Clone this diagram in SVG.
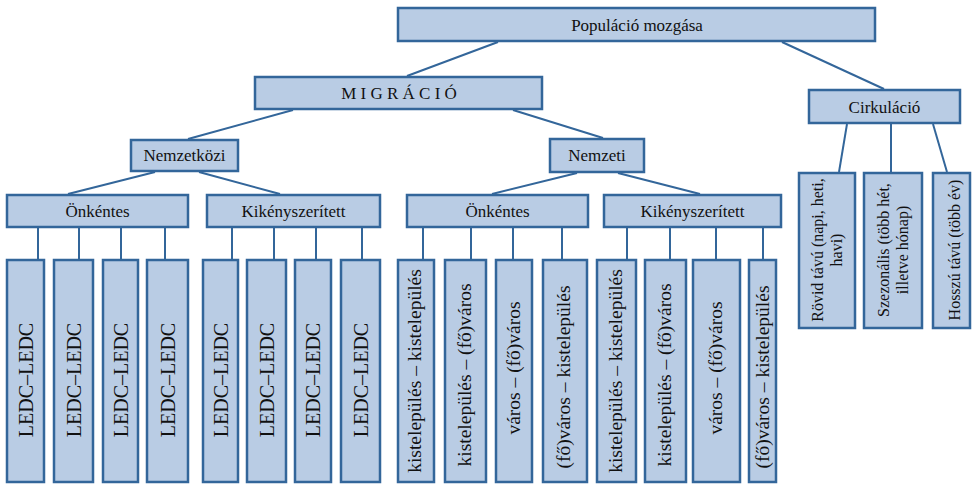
<svg xmlns="http://www.w3.org/2000/svg" width="974" height="486" viewBox="0 0 974 486">
<style>
.b{fill:#b9cce4;stroke:#33669a;stroke-width:2.5}
.c line{stroke:#33669a;stroke-width:2}
text{font-family:"Liberation Serif","Times New Roman",serif;fill:#111;text-anchor:middle}
.h{font-size:17px}
.t{font-size:20px}
.s{font-size:19.5px}
.r{font-size:16px}
</style>
<rect width="974" height="486" fill="#fff"/>
<g class="c" id="connectors">
<line x1="498" y1="42" x2="407" y2="76"/>
<line x1="782" y1="42" x2="884" y2="89"/>
<line x1="293" y1="110" x2="188" y2="139"/>
<line x1="513" y1="110" x2="603" y2="138"/>
<line x1="155" y1="172" x2="68" y2="194"/>
<line x1="199" y1="172" x2="280" y2="194"/>
<line x1="577" y1="173" x2="492" y2="194"/>
<line x1="618" y1="173" x2="700" y2="194"/>
<line x1="847" y1="124" x2="839" y2="172"/>
<line x1="891" y1="124" x2="891" y2="172"/>
<line x1="933" y1="124" x2="947" y2="172"/>
<line x1="38" y1="228" x2="38" y2="259"/>
<line x1="79" y1="228" x2="79" y2="259"/>
<line x1="121" y1="228" x2="121" y2="259"/>
<line x1="165" y1="228" x2="165" y2="259"/>
<line x1="232" y1="228" x2="232" y2="259"/>
<line x1="274" y1="228" x2="274" y2="259"/>
<line x1="316" y1="228" x2="316" y2="259"/>
<line x1="362" y1="228" x2="362" y2="259"/>
<line x1="423" y1="228" x2="423" y2="259"/>
<line x1="471" y1="228" x2="471" y2="259"/>
<line x1="513" y1="228" x2="513" y2="259"/>
<line x1="562" y1="228" x2="562" y2="259"/>
<line x1="627" y1="228" x2="627" y2="259"/>
<line x1="670" y1="228" x2="670" y2="259"/>
<line x1="716" y1="228" x2="716" y2="259"/>
<line x1="763" y1="228" x2="763" y2="259"/>
</g>
<g id="populacio"><rect class="b" x="398" y="8" width="477" height="33"/><text class="h" x="637" y="30.5">Populáció mozgása</text></g>
<g id="migracio"><rect class="b" x="255" y="77" width="287" height="32"/><text class="h" x="399" y="99">M I G R Á C I Ó</text></g>
<g id="cirkulacio"><rect class="b" x="809" y="90" width="151" height="33"/><text class="h" x="884.5" y="112.5">Cirkuláció</text></g>
<g id="nemzetkozi"><rect class="b" x="131" y="140" width="107" height="31"/><text class="h" x="184.5" y="161">Nemzetközi</text></g>
<g id="nemzeti"><rect class="b" x="550" y="139" width="94" height="33"/><text class="h" x="597" y="161">Nemzeti</text></g>
<g id="onkentes1"><rect class="b" x="7" y="195" width="181" height="32"/><text class="h" x="97.5" y="217">Önkéntes</text></g>
<g id="kikeny1"><rect class="b" x="207" y="195" width="173" height="32"/><text class="h" x="293.5" y="217">Kikényszerített</text></g>
<g id="onkentes2"><rect class="b" x="407" y="195" width="181" height="32"/><text class="h" x="497.5" y="217">Önkéntes</text></g>
<g id="kikeny2"><rect class="b" x="604" y="195" width="177" height="32"/><text class="h" x="692.5" y="217">Kikényszerített</text></g>
<g id="l1"><rect class="b" x="7" y="260" width="37" height="222"/><text class="t" transform="translate(25.5,380) rotate(-90)" y="7">LEDC–LEDC</text></g>
<g id="l2"><rect class="b" x="54" y="260" width="39" height="222"/><text class="t" transform="translate(73.5,380) rotate(-90)" y="7">LEDC–LEDC</text></g>
<g id="l3"><rect class="b" x="103" y="260" width="35" height="222"/><text class="t" transform="translate(120.5,380) rotate(-90)" y="7">LEDC–LEDC</text></g>
<g id="l4"><rect class="b" x="147" y="260" width="41" height="222"/><text class="t" transform="translate(167.5,380) rotate(-90)" y="7">LEDC–LEDC</text></g>
<g id="l5"><rect class="b" x="203" y="260" width="35" height="222"/><text class="t" transform="translate(220.5,380) rotate(-90)" y="7">LEDC–LEDC</text></g>
<g id="l6"><rect class="b" x="247" y="260" width="39" height="222"/><text class="t" transform="translate(266.5,380) rotate(-90)" y="7">LEDC–LEDC</text></g>
<g id="l7"><rect class="b" x="295" y="260" width="36" height="222"/><text class="t" transform="translate(313,380) rotate(-90)" y="7">LEDC–LEDC</text></g>
<g id="l8"><rect class="b" x="341" y="260" width="39" height="222"/><text class="t" transform="translate(360.5,380) rotate(-90)" y="7">LEDC–LEDC</text></g>
<g id="n1"><rect class="b" x="398" y="260" width="36" height="222"/><text class="s" transform="translate(416,371) rotate(-90)" y="5">kistelepülés – kistelepülés</text></g>
<g id="n2"><rect class="b" x="445" y="260" width="41" height="222"/><text class="s" transform="translate(465.5,375) rotate(-90)" y="5">kistelepülés – (fő)város</text></g>
<g id="n3"><rect class="b" x="496" y="260" width="36" height="222"/><text class="s" transform="translate(515,368) rotate(-90)" y="5">város – (fő)város</text></g>
<g id="n4"><rect class="b" x="543" y="260" width="44" height="222"/><text class="s" transform="translate(565,377) rotate(-90)" y="5">(fő)város – kistelepülés</text></g>
<g id="n5"><rect class="b" x="597" y="260" width="39" height="222"/><text class="s" transform="translate(616.5,371) rotate(-90)" y="5">kistelepülés – kistelepülés</text></g>
<g id="n6"><rect class="b" x="645" y="260" width="41" height="222"/><text class="s" transform="translate(665.5,375) rotate(-90)" y="5">kistelepülés – (fő)város</text></g>
<g id="n7"><rect class="b" x="693" y="260" width="47" height="222"/><text class="s" transform="translate(716.5,368) rotate(-90)" y="5">város – (fő)város</text></g>
<g id="n8"><rect class="b" x="749" y="260" width="27" height="222"/><text class="s" transform="translate(764,377) rotate(-90)" y="5">(fő)város – kistelepülés</text></g>
<g id="rovid"><rect class="b" x="799" y="173" width="56" height="155"/><text class="r" transform="translate(827,250) rotate(-90)"><tspan x="0" y="-4">Rövid távú (napi, heti,</tspan><tspan x="0" y="15">havi)</tspan></text></g>
<g id="szezonalis"><rect class="b" x="864" y="173" width="58" height="155"/><text class="r" transform="translate(893,250) rotate(-90)"><tspan x="0" y="-4">Szezonális (több hét,</tspan><tspan x="0" y="15">illetve hónap)</tspan></text></g>
<g id="hosszu"><rect class="b" x="933" y="173" width="37" height="155"/><text class="r" transform="translate(955,250) rotate(-90)" y="5">Hosszú távú (több év)</text></g>
</svg>
